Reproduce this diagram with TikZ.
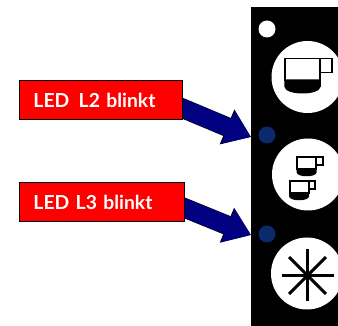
\documentclass[tikz,border=0pt]{standalone}
\usepackage{fontspec}
\setmainfont{Lato}
\usetikzlibrary{arrows.meta,backgrounds}
\definecolor{ledblue}{HTML}{0B2A6B}
\definecolor{arrowblue}{HTML}{000080}
\tikzset{
  mugline/.style={line width=1.5pt},
  pics/mug/.style={code={
    \draw[fill=white,mugline] (0,0) rectangle (35,22);
    \draw[mugline] (35,0) -- (47,0) -- (47,14) -- (35,14);
    \fill (-.75,21) -- (35.75,21) -- (35.75,28) .. controls (35,33) and (26,35) .. (17.5,35)
      .. controls (9,35) and (0,33) .. (-.75,28) -- cycle;
  }}
}
\begin{document}
\begin{tikzpicture}[x=1pt,y=-1pt,line join=miter,
    msgbox/.style={draw=black,line width=1pt,fill=red,text=white,font=\fontsize{19.3}{22}\selectfont\bfseries,
      anchor=north west,align=left,inner sep=0pt,inner xsep=14.5pt},
    blinkarrow/.style={arrowblue,line width=18.5pt,-{Triangle[length=25pt,width=34pt]},
      preaction={draw=black,line width=19.5pt,-{Triangle[length=26pt,width=36pt]}}},
    ledlamp/.style={circle,fill=#1,minimum size=17pt,inner sep=0pt},
    bigbutton/.style={circle,fill=white,minimum size=72pt,inner sep=0pt},
    starline/.style={line width=3pt}]
  \useasboundingbox (0,0) rectangle (338,326);
  \fill (250.5,7) rectangle (338,326);
  \node[ledlamp=white] (L1) at (267,29) {};
  \node[ledlamp=ledblue] (L2) at (267,135) {};
  \node[ledlamp=ledblue] (L3) at (267,234) {};
  \node[bigbutton] (B1) at (307.5,77) {};
  \node[bigbutton] (B2) at (308,174.5) {};
  \node[bigbutton] (B3) at (307,273.5) {};
  % cups
  \pic at (285,58.5) {mug};
  \pic[scale=.55,mugline/.style={line width=2pt}] at (297,157) {mug};
  \pic[scale=.55,mugline/.style={line width=2pt}] at (289.5,181) {mug};
  % star
  \coordinate (S) at (307.5,275.5);
  \foreach \a in {0,45,90,135}
    \draw[starline] (S) +(\a:26) -- +(\a+180:26);
  % labels
  \node[msgbox,text width=134.5pt,minimum height=39pt] (M2) at (18.5,80) {LED\ \hspace{3pt}L2 blinkt};
  \node[msgbox,text width=136pt,minimum height=39.5pt] (M3) at (18.5,182) {LED L3 blinkt};
  \coordinate (A2) at (170,103);
  \coordinate (T2) at (251,137);
  \coordinate (A3) at (170,202);
  \coordinate (T3) at (251,235);
  \begin{scope}[on background layer]
    \draw[blinkarrow] (A2) -- (T2);
    \draw[blinkarrow] (A3) -- (T3);
  \end{scope}
\end{tikzpicture}
\end{document}
